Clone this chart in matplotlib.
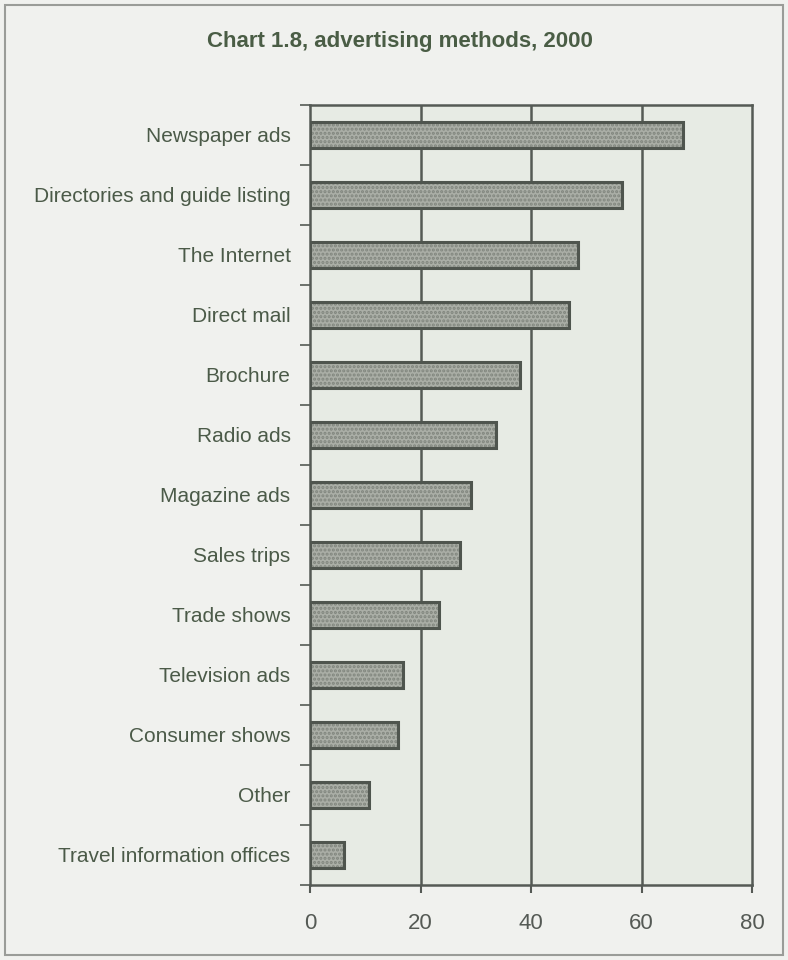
import numpy as np
import matplotlib.pyplot as plt
from matplotlib.patches import Rectangle

plt.rcParams['font.family'] = ['Liberation Sans', 'DejaVu Sans']
plt.rcParams['hatch.linewidth'] = 1.5

# dati
metodi = ["Newspaper ads", "Directories and guide listing", "The Internet", "Direct mail",
          "Brochure", "Radio ads", "Magazine ads", "Sales trips", "Trade shows",
          "Television ads", "Consumer shows", "Other", "Travel information offices"]
percentuali = [67.6, 56.5, 48.5, 46.8, 38.0, 33.7, 29.1, 27.2, 23.4, 16.9, 16.0, 10.6, 6.2]
tick_x = [0, 20, 40, 60, 80]

fig = plt.figure(figsize=(7.88, 9.6), dpi=100, facecolor='#f0f1ee')
ax = fig.add_axes([310 / 788, 75 / 960, 442 / 788, 780 / 960])
ax.set_facecolor('#e7ebe4')

# cornice esterna
fig.patches.append(Rectangle((5 / 788, 5 / 960), 778 / 788, 950 / 960, transform=fig.transFigure,
                             fill=False, edgecolor='#9a9c98', linewidth=1.5))

y = np.arange(len(metodi))
# riempimento "maculato" + bordo scuro
ax.barh(y, percentuali, height=0.42, color='#aaaea6', edgecolor='#80857d', hatch='....',
        linewidth=0, zorder=3)
ax.barh(y, percentuali, height=0.42, fill=False, edgecolor='#4f554e', linewidth=2.2, zorder=4)

ax.set_xlim(0, 80)
ax.set_ylim(len(metodi) - 0.5, -0.5)
ax.set_xticks(tick_x)
ax.set_xticklabels([str(t) for t in tick_x], fontsize=16, color='#555a55')
ax.set_yticks(y)
ax.set_yticklabels(metodi, fontsize=15, color='#4b5a48')
ax.set_yticks(np.arange(len(metodi) + 1) - 0.5, minor=True)
ax.tick_params(axis='y', which='major', length=0, pad=14)
ax.tick_params(axis='y', which='minor', length=7, width=1.2, color='#555a55', direction='out')
ax.tick_params(axis='x', length=6, width=1.5, color='#555a55', pad=14)

for xv in tick_x[1:-1]:
    ax.axvline(xv, color='#555a55', linewidth=1.8, zorder=1)

for s in ax.spines.values():
    s.set_color('#555a55')
    s.set_linewidth(1.8)

fig.text(400 / 788, 1 - 42 / 960, "Chart 1.8, advertising methods, 2000", ha='center', va='center',
         fontsize=16, fontweight='bold', color='#4a5d45')

fig.savefig("out.png", dpi=100, facecolor=fig.get_facecolor())
